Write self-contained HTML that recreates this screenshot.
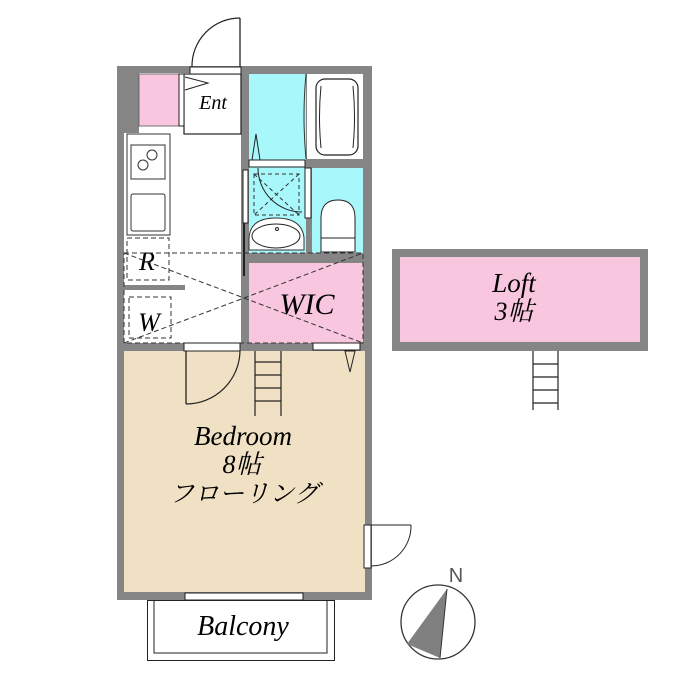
<!DOCTYPE html>
<html><head><meta charset="utf-8"><style>html,body{margin:0;padding:0;background:#fff}svg{display:block}</style></head>
<body>
<svg width="700" height="700" viewBox="0 0 700 700" xmlns="http://www.w3.org/2000/svg" font-family="'Liberation Serif','Noto Serif CJK SC',serif">
<rect width="700" height="700" fill="#fff"/>
<!-- outer walls -->
<rect x="117" y="66" width="255" height="534" fill="#858585"/>
<rect x="124" y="73" width="117" height="270" fill="#fff"/>
<rect x="117" y="73" width="22" height="60" fill="#858585"/>
<rect x="139" y="74" width="40" height="52" fill="#f9c6e0" stroke="#555" stroke-width="0.8"/>
<!-- ent -->
<rect x="184" y="74" width="57" height="60" fill="#fff" stroke="#222" stroke-width="1.2"/>
<rect x="179" y="74" width="5" height="52" fill="#fff" stroke="#222"/>
<polyline points="185,77 208,83 185,90" fill="none" stroke="#222"/>
<text x="213" y="109" font-size="20" font-style="italic" text-anchor="middle">Ent</text>
<!-- entrance door -->
<rect x="190" y="67" width="51" height="7" fill="#fff" stroke="#222"/>
<line x1="240" y1="18" x2="240" y2="67" stroke="#222" stroke-width="1.3"/>
<path d="M240,18 A48,48 0 0 0 192,67" fill="none" stroke="#222" stroke-width="1.2"/>
<!-- kitchen -->
<rect x="127" y="134" width="43" height="101" fill="#fff" stroke="#333"/>
<rect x="131" y="145" width="34" height="34" fill="#fff" stroke="#333"/>
<circle cx="152" cy="155" r="5" fill="none" stroke="#333"/>
<circle cx="143" cy="165" r="5" fill="none" stroke="#333"/>
<rect x="131" y="194" width="34" height="37" rx="2" fill="#fff" stroke="#333"/>
<rect x="124" y="285" width="61" height="5" fill="#858585"/>
<!-- bath & right block -->
<rect x="249" y="74" width="114" height="179" fill="#858585"/>
<rect x="249" y="74" width="57" height="86" fill="#a8f7fa"/>
<rect x="307" y="74" width="56" height="85" fill="#fff"/>
<path d="M306,74 Q302,116 306,159" fill="none" stroke="#333"/>
<rect x="316" y="79" width="42" height="76" rx="9" fill="#fff" stroke="#222" stroke-width="1.2"/>
<path d="M321,86 Q318,117 321,148 M353,86 Q356,117 353,148" fill="none" stroke="#222"/>
<rect x="249" y="167" width="57" height="86" fill="#a8f7fa"/>
<rect x="312" y="168" width="51" height="85" fill="#a8f7fa"/>
<rect x="249" y="160" width="56" height="7" fill="#fff" stroke="#222"/>
<polygon points="252,160 256,134 260,160" fill="none" stroke="#222"/>
<rect x="305" y="168" width="6" height="50" fill="#fff" stroke="#222"/>
<rect x="254" y="174" width="45" height="41" fill="none" stroke="#333" stroke-dasharray="4,3"/>
<path d="M254,174 L299,215 M299,174 L254,215" stroke="#333" stroke-dasharray="4,3"/>
<path d="M258,168 A44,44 0 0 0 302,212" fill="none" stroke="#222"/>
<path d="M249,250 L249,238 Q250,218 276,218 Q302,218 304,238 L304,250 Z" fill="#fff" stroke="#333"/>
<ellipse cx="276" cy="236" rx="24" ry="12" fill="#fff" stroke="#222"/>
<circle cx="277" cy="229" r="1.5" fill="none" stroke="#222"/>
<path d="M321,240 L321,218 Q321,200 338,200 Q355,200 355,218 L355,240 Z" fill="#fff" stroke="#222"/>
<rect x="321" y="238" width="34" height="14" fill="#fff" stroke="#222"/>
<rect x="243" y="170" width="5" height="53" fill="#fff" stroke="#222"/>
<line x1="244" y1="223" x2="244" y2="276" stroke="#222" stroke-width="2"/>
<!-- WIC -->
<rect x="249" y="263" width="114" height="80" fill="#f9c6e0"/>
<text x="307" y="314" font-size="30" font-style="italic" text-anchor="middle">WIC</text>
<!-- R W -->
<rect x="127" y="238" width="42" height="42" fill="none" stroke="#333" stroke-dasharray="5,3"/>
<rect x="129" y="297" width="42" height="41" fill="none" stroke="#333" stroke-dasharray="5,3"/>
<text x="147" y="270" font-size="26" font-style="italic" text-anchor="middle">R</text>
<text x="149" y="331" font-size="26" font-style="italic" text-anchor="middle">W</text>
<rect x="124" y="253" width="239" height="90" fill="none" stroke="#333" stroke-dasharray="5,3"/>
<polyline points="124,253 244,298 363,253" fill="none" stroke="#333" stroke-dasharray="5,3"/>
<polyline points="124,343 244,298 363,343" fill="none" stroke="#333" stroke-dasharray="5,3"/>
<!-- bedroom -->
<rect x="124" y="351" width="241" height="241" fill="#f0e0c4"/>
<rect x="184" y="343" width="56" height="8" fill="#fff" stroke="#222"/>
<line x1="186" y1="351" x2="186" y2="404" stroke="#222" stroke-width="1.3"/>
<path d="M186,404 A54,54 0 0 0 240,351" fill="none" stroke="#222" stroke-width="1.2"/>
<rect x="313" y="343" width="47" height="7" fill="#fff" stroke="#222"/>
<polygon points="345,351 350,372 355,351" fill="none" stroke="#222"/>
<g stroke="#222" stroke-width="1.2">
<line x1="255" y1="351" x2="255" y2="416"/><line x1="281" y1="351" x2="281" y2="416"/>
<line x1="255" y1="362" x2="281" y2="362"/><line x1="255" y1="375" x2="281" y2="375"/><line x1="255" y1="388" x2="281" y2="388"/><line x1="255" y1="401" x2="281" y2="401"/>
</g>
<text x="243" y="445" font-size="27" font-style="italic" text-anchor="middle">Bedroom</text>
<text x="242" y="473" font-size="26" font-style="italic" text-anchor="middle">8帖</text>
<text x="244" y="502" font-size="25" font-style="italic" text-anchor="middle">フローリング</text>
<!-- side door -->
<rect x="364" y="525" width="7" height="43" fill="#fff" stroke="#222"/>
<line x1="371" y1="525" x2="411" y2="525" stroke="#222"/>
<path d="M411,525 A40,40 0 0 1 371,566" fill="none" stroke="#222"/>
<!-- balcony -->
<rect x="185" y="593" width="118" height="7" fill="#fff" stroke="#222"/>
<rect x="147.5" y="600.5" width="187" height="60" fill="#fff" stroke="#222"/>
<polyline points="154,600 154,653 327,653 327,600" fill="none" stroke="#222"/>
<text x="243" y="635" font-size="28" font-style="italic" text-anchor="middle">Balcony</text>
<!-- loft -->
<rect x="392" y="249" width="256" height="102" fill="#858585"/>
<rect x="400" y="257" width="240" height="85" fill="#f9c6e0"/>
<text x="514" y="292" font-size="27" font-style="italic" text-anchor="middle">Loft</text>
<text x="514" y="320" font-size="26" font-style="italic" text-anchor="middle">3帖</text>
<g stroke="#222" stroke-width="1.2">
<line x1="533" y1="351" x2="533" y2="410"/><line x1="558" y1="351" x2="558" y2="410"/>
<line x1="533" y1="364" x2="558" y2="364"/><line x1="533" y1="377" x2="558" y2="377"/><line x1="533" y1="390" x2="558" y2="390"/><line x1="533" y1="403" x2="558" y2="403"/>
</g>
<!-- compass -->
<circle cx="438" cy="622" r="37" fill="#fff" stroke="#333" stroke-width="1.3"/>
<polygon points="447,589 407,644 440,658" fill="#808080"/>
<line x1="447" y1="589" x2="440" y2="658" stroke="#333"/>
<text x="456" y="582" font-size="20" font-family="'Liberation Sans',sans-serif" fill="#555" text-anchor="middle">N</text>
</svg>
</body></html>
